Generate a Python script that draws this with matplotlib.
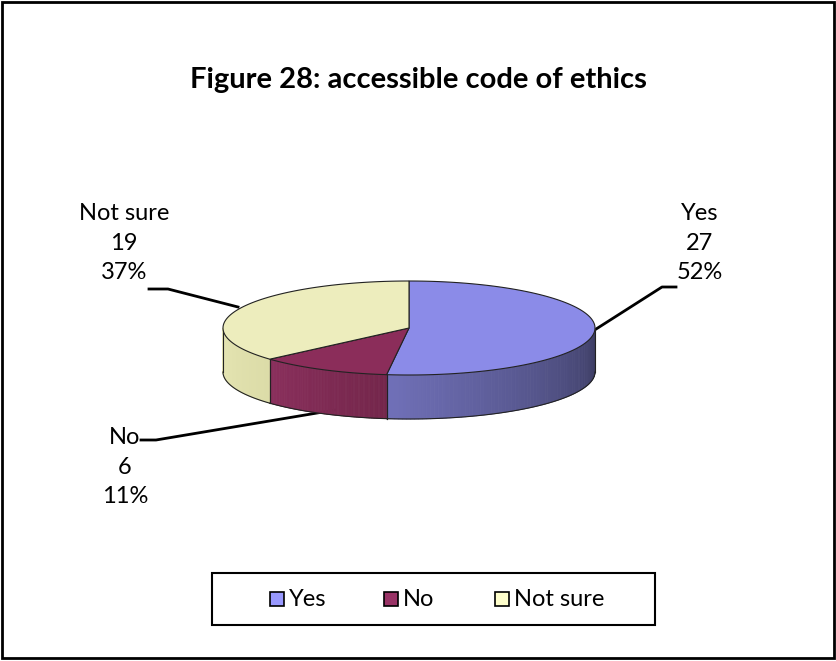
import numpy as np
import matplotlib
matplotlib.use("Agg")
from matplotlib import pyplot as plt
from matplotlib.patches import Polygon, Rectangle

# data
labels = ["Yes", "No", "Not sure"]
counts = [27, 6, 19]
pct_labels = ["52%", "11%", "37%"]
title = "Figure 28: accessible code of ethics"

# colours (top face, side light, side dark, legend)
top_cols = ["#8b8be8", "#8b2d5a", "#ededbd"]
side_light = ["#7070b8", "#8a2f5c", "#e6e6b4"]
side_dark = ["#3c3c62", "#74264b", "#dcdca8"]
leg_cols = ["#9999ff", "#993366", "#ffffcc"]

plt.rcParams["font.family"] = ["Lato", "DejaVu Sans"]
fs = 17

fig = plt.figure(figsize=(8.37, 6.61), dpi=100)
ax = fig.add_axes([0, 0, 1, 1])
ax.set_xlim(0, 837)
ax.set_ylim(661, 0)
ax.axis("off")

# outer frame
ax.add_patch(Rectangle((2, 2), 832, 656, fill=False, lw=2, ec="black"))
ax.text(418, 80, title, ha="center", va="center", fontsize=21, fontweight="bold")

# pie geometry
cx, cy, rx, ry, depth = 409, 328, 186, 47, 44

def pt(t):
    return cx + rx * np.cos(t), cy - ry * np.sin(t)

total = float(sum(counts))
start = np.pi / 2
angles = []
for c in counts:
    end = start - 2 * np.pi * c / total
    angles.append((start, end))
    start = end

# side walls (front half only)
for i, (a0, a1) in enumerate(angles):
    lo, hi = min(a0, a1), max(a0, a1)
    segs = []
    for k in (-2, 0, 2):
        s = max(lo + k * np.pi, -np.pi)
        e = min(hi + k * np.pi, 0)
        if e > s:
            segs.append((s, e))
    for s, e in segs:
        ts = np.linspace(s, e, 80)
        c1 = np.array(matplotlib.colors.to_rgb(side_light[i]))
        c2 = np.array(matplotlib.colors.to_rgb(side_dark[i]))
        for j in range(len(ts) - 1):
            # light on the left, dark on the right
            f = j / (len(ts) - 2)
            col = c1 * (1 - f) + c2 * f
            x0, y0 = pt(ts[j])
            x1, y1 = pt(ts[j + 1])
            ax.add_patch(Polygon([(x0, y0), (x1, y1), (x1, y1 + depth), (x0, y0 + depth)],
                                 closed=True, fc=col, ec=col, lw=0.6, zorder=3))
        xs, ys = pt(ts)
        ax.plot(xs, ys + depth, color="#222222", lw=0.8, zorder=4)
        for t in (s, e):
            x, y = pt(t)
            ax.plot([x, x], [y, y + depth], color="#222222", lw=0.8, zorder=4)

# top faces
for i, (a0, a1) in enumerate(angles):
    ts = np.linspace(a0, a1, 200)
    xs, ys = pt(ts)
    verts = [(cx, cy)] + list(zip(xs, ys))
    ax.add_patch(Polygon(verts, closed=True, fc=top_cols[i], ec="#222222", lw=0.8, zorder=5))

# data labels with leader lines
def lab(i):
    return "%s\n%d\n%s" % (labels[i], counts[i], pct_labels[i])

ax.text(700, 243, lab(0), ha="center", va="center", fontsize=fs, linespacing=1.5)
ax.plot([676, 662, 593], [287, 287, 331], color="black", lw=2, zorder=2)

ax.text(125, 467, lab(1), ha="center", va="center", fontsize=fs, linespacing=1.5)
ax.plot([141, 156, 335], [440, 440, 410], color="black", lw=2, zorder=2)

ax.text(124, 243, lab(2), ha="center", va="center", fontsize=fs, linespacing=1.5)
ax.plot([149, 168, 238], [289, 289, 307], color="black", lw=2, zorder=2)

# legend
ax.add_patch(Rectangle((212, 573), 443, 52, fill=False, lw=1.5, ec="black"))
leg_x = [270, 384, 495]
for i in range(3):
    ax.add_patch(Rectangle((leg_x[i], 592), 14, 14, fc=leg_cols[i], ec="black", lw=1.2, zorder=5))
    ax.text(leg_x[i] + 19, 599, labels[i], ha="left", va="center", fontsize=fs)

fig.savefig("out.png", dpi=100)
